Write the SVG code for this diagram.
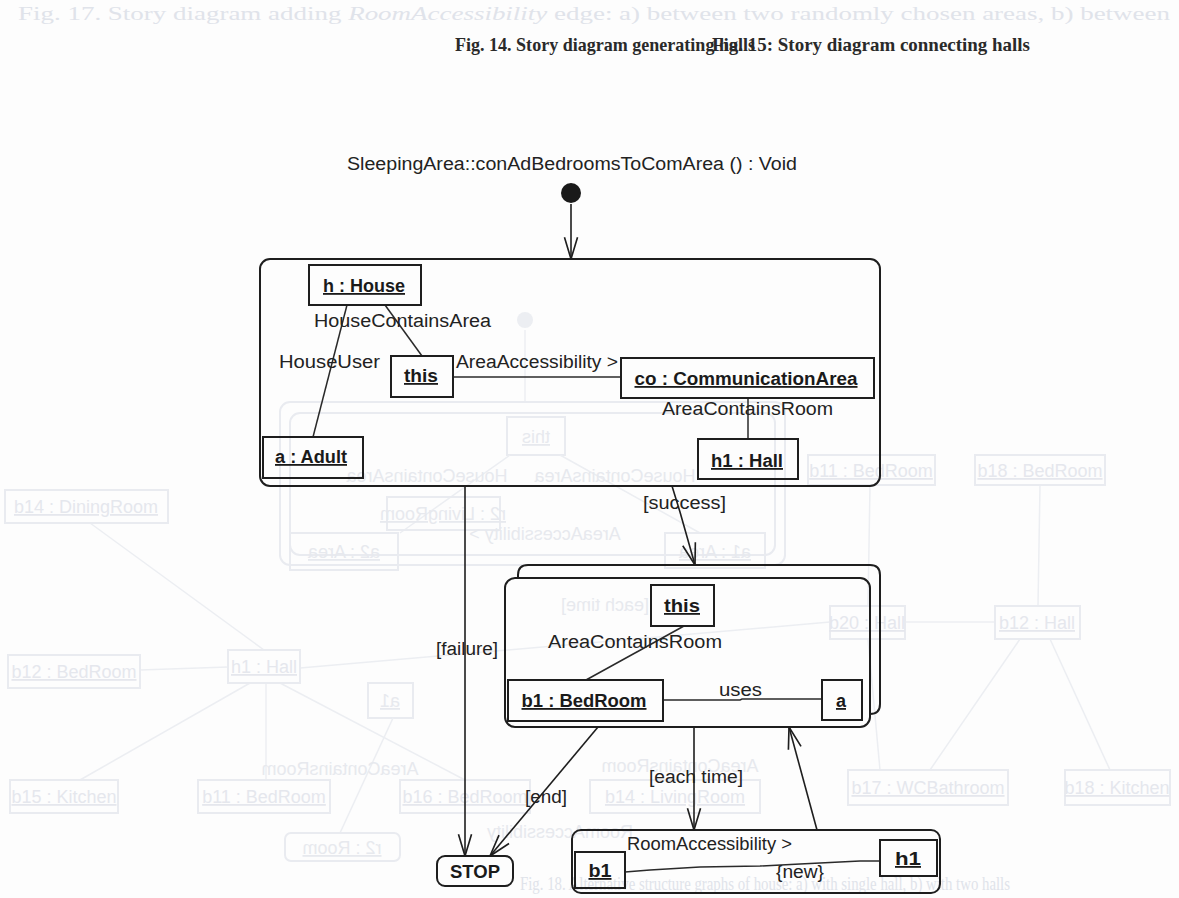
<svg xmlns="http://www.w3.org/2000/svg" width="1179" height="898" viewBox="0 0 1179 898">
  <style>
    .lbl { font-family: "Liberation Sans", Arial, sans-serif; font-size: 18px; fill: #222; }
    .obj { font-family: "Liberation Sans", Arial, sans-serif; font-size: 18px; font-weight: bold; fill: #1a1a1a; text-decoration: underline; text-anchor: middle; }
    .box { fill: none; stroke: #1e1e1e; stroke-width: 2; }
    .act { fill: none; stroke: #1e1e1e; stroke-width: 2; }
    .link { fill: none; stroke: #2a2a2a; stroke-width: 1.5; }
    .flow { fill: none; stroke: #1e1e1e; stroke-width: 1.6; marker-end: url(#open); }
    .cap { font-family: "Liberation Serif", "Times New Roman", serif; font-size: 19px; font-weight: bold; fill: #2a2a2a; }
    .ghost { font-family: "Liberation Serif", "Times New Roman", serif; font-size: 19px; fill: #e0e3ea; }
    .gbox { fill: none; stroke: #e9ebf0; stroke-width: 2; }
    .gline { fill: none; stroke: #eceef2; stroke-width: 1.5; }
    .gtxt { font-family: "Liberation Sans", Arial, sans-serif; font-size: 18px; fill: #e5e7ed; text-decoration: underline; text-anchor: middle; }
    .gmir { font-family: "Liberation Sans", Arial, sans-serif; font-size: 18px; fill: #e7e9ee; text-anchor: middle; }
  </style>
  <defs>
    <marker id="open" markerUnits="userSpaceOnUse" markerWidth="24" markerHeight="16" viewBox="0 0 22 14" refX="21" refY="7" orient="auto">
      <path d="M1,1 L21,7 L1,13" fill="none" stroke="#1e1e1e" stroke-width="1.5"/>
    </marker>
  </defs>

  <rect width="1179" height="898" fill="#fdfdfd"/>

  <!-- faint structure graphs printed on the facing page -->
  <g id="ghost">
    <line class="gline" x1="90" y1="523" x2="264" y2="650"/>
    <line class="gline" x1="140" y1="670" x2="228" y2="667"/>
    <line class="gline" x1="80" y1="780" x2="250" y2="683"/>
    <line class="gline" x1="266" y1="683" x2="266" y2="780"/>
    <line class="gline" x1="300" y1="668" x2="830" y2="622"/>
    <line class="gline" x1="280" y1="683" x2="465" y2="780"/>
    <line class="gline" x1="905" y1="622" x2="995" y2="622"/>
    <line class="gline" x1="868" y1="606" x2="870" y2="485"/>
    <line class="gline" x1="1038" y1="606" x2="1040" y2="485"/>
    <line class="gline" x1="1020" y1="639" x2="930" y2="770"/>
    <line class="gline" x1="1050" y1="639" x2="1110" y2="770"/>
    <line class="gline" x1="868" y1="639" x2="880" y2="770"/>
    <rect class="gbox" x="5" y="490" width="163" height="33"/>
    <text class="gtxt" x="86" y="513">b14 : DiningRoom</text>
    <rect class="gbox" x="8" y="655" width="132" height="33"/>
    <text class="gtxt" x="74" y="678">b12 : BedRoom</text>
    <rect class="gbox" x="228" y="650" width="72" height="33"/>
    <text class="gtxt" x="264" y="673">h1 : Hall</text>
    <rect class="gbox" x="10" y="780" width="108" height="33"/>
    <text class="gtxt" x="64" y="803">b15 : Kitchen</text>
    <rect class="gbox" x="198" y="780" width="132" height="33"/>
    <text class="gtxt" x="264" y="803">b11 : BedRoom</text>
    <rect class="gbox" x="400" y="780" width="130" height="33"/>
    <text class="gtxt" x="465" y="803">b16 : BedRoom</text>
    <rect class="gbox" x="590" y="780" width="170" height="33"/>
    <text class="gtxt" x="675" y="803">b14 : LivingRoom</text>
    <rect class="gbox" x="808" y="455" width="127" height="30"/>
    <text class="gtxt" x="871" y="477">b11 : BedRoom</text>
    <rect class="gbox" x="975" y="455" width="130" height="30"/>
    <text class="gtxt" x="1040" y="477">b18 : BedRoom</text>
    <rect class="gbox" x="830" y="606" width="75" height="33"/>
    <text class="gtxt" x="867" y="629">b20 : Hall</text>
    <rect class="gbox" x="995" y="606" width="85" height="33"/>
    <text class="gtxt" x="1037" y="629">b12 : Hall</text>
    <rect class="gbox" x="848" y="770" width="160" height="35"/>
    <text class="gtxt" x="928" y="794">b17 : WCBathroom</text>
    <rect class="gbox" x="1065" y="770" width="105" height="35"/>
    <text class="gtxt" x="1117" y="794">b18 : Kitchen</text>
  </g>

  <!-- faint story diagram showing through from the reverse side (mirrored) -->
  <g id="ghost-story">
    <circle cx="525" cy="320" r="8" fill="#eceef2"/>
    <line class="gline" x1="525" y1="330" x2="525" y2="402"/>
    <rect class="gbox" x="280" y="402" width="505" height="163" rx="10"/>
    <rect class="gbox" x="290" y="413" width="485" height="142" rx="10"/>
    <rect class="gbox" x="507" y="417" width="58" height="38"/>
    <text class="gmir" x="536" y="443" transform="translate(1072,0) scale(-1,1)" text-decoration="underline">this</text>
    <line class="gline" x1="510" y1="455" x2="400" y2="533"/>
    <line class="gline" x1="560" y1="455" x2="700" y2="533"/>
    <text class="gmir" x="427" y="482" transform="translate(854,0) scale(-1,1)">HouseContainsArea</text>
    <text class="gmir" x="615" y="482" transform="translate(1230,0) scale(-1,1)">HouseContainsArea</text>
    <rect class="gbox" x="387" y="497" width="113" height="33"/>
    <text class="gmir" x="443" y="520" transform="translate(886,0) scale(-1,1)" text-decoration="underline">r2 : LivingRoom</text>
    <rect class="gbox" x="290" y="533" width="108" height="37"/>
    <text class="gmir" x="344" y="558" transform="translate(688,0) scale(-1,1)" text-decoration="underline">a2 : Area</text>
    <text class="gmir" x="545" y="540" transform="translate(1090,0) scale(-1,1)">AreaAccessibility &gt;</text>
    <rect class="gbox" x="665" y="533" width="100" height="35"/>
    <text class="gmir" x="715" y="558" transform="translate(1430,0) scale(-1,1)" text-decoration="underline">a1 : Area</text>
    <text class="gmir" x="605" y="611" transform="translate(1210,0) scale(-1,1)">[each time]</text>
    <rect class="gbox" x="368" y="683" width="45" height="35"/>
    <text class="gmir" x="390" y="707" transform="translate(780,0) scale(-1,1)" text-decoration="underline">a1</text>
    <line class="gline" x1="340" y1="833" x2="393" y2="718"/>
    <text class="gmir" x="340" y="775" transform="translate(680,0) scale(-1,1)">AreaContainsRoom</text>
    <text class="gmir" x="680" y="772" transform="translate(1360,0) scale(-1,1)">AreaContainsRoom</text>
    <rect class="gbox" x="285" y="833" width="115" height="28" rx="6"/>
    <text class="gmir" x="342" y="854" transform="translate(684,0) scale(-1,1)" text-decoration="underline">r2 : Room</text>
    <text class="gmir" x="560" y="838" transform="translate(1120,0) scale(-1,1)">RoomAccessibility</text>
  </g>

  <!-- page captions -->
  <text class="ghost" x="18" y="20" textLength="1152" lengthAdjust="spacingAndGlyphs">Fig. 17. Story diagram adding <tspan font-style="italic">RoomAccessibility</tspan> edge: a) between two randomly chosen areas, b) between</text>
  <text class="cap" x="455" y="51" textLength="300" lengthAdjust="spacingAndGlyphs">Fig. 14. Story diagram generating halls</text>
  <text class="cap" x="712" y="51" textLength="318" lengthAdjust="spacingAndGlyphs">Fig. 15: Story diagram connecting halls</text>
  <text class="ghost" x="520" y="890" textLength="490" lengthAdjust="spacingAndGlyphs">Fig. 18. Alternative structure graphs of house: a) with single hall, b) with two halls</text>

  <!-- method signature and start state -->
  <text class="lbl" x="347" y="170" textLength="450" lengthAdjust="spacingAndGlyphs">SleepingArea::conAdBedroomsToComArea () : Void</text>
  <circle id="start" cx="571" cy="193" r="10" fill="#1a1a1a"/>

  <!-- activity 1: find communication area and hall -->
  <g id="activity1">
    <rect class="act" x="260" y="259" width="620" height="227" rx="10"/>
  </g>

  <!-- activity 2: for each bedroom (stacked; the back frame only shows top and right) -->
  <g id="activity2">
    <path class="act" d="M518,578 L518,575 Q518,565 528,565 L870,565 Q880,565 880,575 L880,704 Q880,714 870,714"/>
    <rect class="act" x="505" y="578" width="365" height="149" rx="10"/>
  </g>

  <!-- activity 3: create room accessibility -->
  <g id="activity3">
    <rect class="act" x="572" y="830" width="368" height="63" rx="9"/>
  </g>

  <!-- stop state -->
  <g id="stop">
    <rect class="act" x="437" y="856" width="76" height="30" rx="8"/>
    <text class="obj" x="475" y="878" textLength="50" lengthAdjust="spacingAndGlyphs" style="text-decoration:none">STOP</text>
  </g>

  <!-- connectors -->
  <g id="connectors">
    <!-- links inside activity 1 -->
    <line class="link" x1="347" y1="305" x2="313" y2="437"/>
    <line class="link" x1="385" y1="305" x2="422" y2="356"/>
    <line class="link" x1="453" y1="377" x2="621" y2="377"/>
    <line class="link" x1="748" y1="398" x2="748" y2="439"/>
    <!-- links inside activity 2 -->
    <line class="link" x1="684" y1="626" x2="586" y2="680"/>
    <polyline class="link" points="663,700 740,700 742,699 822,699"/>
    <!-- link inside activity 3 -->
    <polyline class="link" points="625,872 650,870 700,867 760,866 800,864 860,861 880,861"/>
    <!-- control flow -->
    <line class="flow" x1="571" y1="204" x2="571" y2="259"/>
    <path class="flow" d="M672,486 L680,512 L695,565"/>
    <line class="flow" x1="465" y1="486" x2="465" y2="856"/>
    <line class="flow" x1="598" y1="727" x2="490" y2="856"/>
    <line class="flow" x1="694" y1="727" x2="694" y2="830"/>
    <line class="flow" x1="817" y1="830" x2="789" y2="727"/>
  </g>

  <!-- connector labels -->
  <g id="labels">
    <text class="lbl" x="314" y="327" textLength="177" lengthAdjust="spacingAndGlyphs">HouseContainsArea</text>
    <text class="lbl" x="279" y="368" textLength="101" lengthAdjust="spacingAndGlyphs">HouseUser</text>
    <text class="lbl" x="456" y="368" textLength="162" lengthAdjust="spacingAndGlyphs">AreaAccessibility &gt;</text>
    <text class="lbl" x="662" y="415" textLength="171" lengthAdjust="spacingAndGlyphs">AreaContainsRoom</text>
    <text class="lbl" x="643" y="509" textLength="83" lengthAdjust="spacingAndGlyphs">[success]</text>
    <text class="lbl" x="436" y="655" textLength="62" lengthAdjust="spacingAndGlyphs">[failure]</text>
    <text class="lbl" x="548" y="648" textLength="174" lengthAdjust="spacingAndGlyphs">AreaContainsRoom</text>
    <text class="lbl" x="719" y="696" textLength="43" lengthAdjust="spacingAndGlyphs">uses</text>
    <text class="lbl" x="649" y="783" textLength="94" lengthAdjust="spacingAndGlyphs">[each time]</text>
    <text class="lbl" x="525" y="803" textLength="42" lengthAdjust="spacingAndGlyphs">[end]</text>
    <text class="lbl" x="627" y="850" textLength="165" lengthAdjust="spacingAndGlyphs">RoomAccessibility &gt;</text>
    <text class="lbl" x="776" y="878" textLength="48" lengthAdjust="spacingAndGlyphs">{new}</text>
  </g>

  <!-- objects -->
  <g id="house">
    <rect class="box" x="309" y="265" width="112" height="40"/>
    <text class="obj" x="364" y="292" textLength="82" lengthAdjust="spacingAndGlyphs">h : House</text>
  </g>
  <g id="this1">
    <rect class="box" x="391" y="356" width="62" height="41"/>
    <text class="obj" x="421" y="382" textLength="34" lengthAdjust="spacingAndGlyphs">this</text>
  </g>
  <g id="commArea">
    <rect class="box" x="621" y="358" width="253" height="40"/>
    <text class="obj" x="746" y="385" textLength="223" lengthAdjust="spacingAndGlyphs">co : CommunicationArea</text>
  </g>
  <g id="hall">
    <rect class="box" x="698" y="439" width="100" height="40"/>
    <text class="obj" x="747" y="467" textLength="72" lengthAdjust="spacingAndGlyphs">h1 : Hall</text>
  </g>
  <g id="adult">
    <rect class="box" x="263" y="437" width="100" height="41"/>
    <text class="obj" x="311" y="463" textLength="72" lengthAdjust="spacingAndGlyphs">a : Adult</text>
  </g>
  <g id="this2">
    <rect class="box" x="651" y="585" width="63" height="41"/>
    <text class="obj" x="682" y="612" textLength="36" lengthAdjust="spacingAndGlyphs">this</text>
  </g>
  <g id="bedroom">
    <rect class="box" x="508" y="680" width="155" height="41"/>
    <text class="obj" x="584" y="707" textLength="125" lengthAdjust="spacingAndGlyphs">b1 : BedRoom</text>
  </g>
  <g id="adultRef">
    <rect class="box" x="822" y="680" width="40" height="40"/>
    <text class="obj" x="841" y="707">a</text>
  </g>
  <g id="b1Ref">
    <rect class="box" x="575" y="852" width="50" height="36"/>
    <text class="obj" x="600" y="877" textLength="23" lengthAdjust="spacingAndGlyphs">b1</text>
  </g>
  <g id="h1Ref">
    <rect class="box" x="880" y="840" width="57" height="36"/>
    <text class="obj" x="908" y="865" textLength="26" lengthAdjust="spacingAndGlyphs">h1</text>
  </g>
</svg>
